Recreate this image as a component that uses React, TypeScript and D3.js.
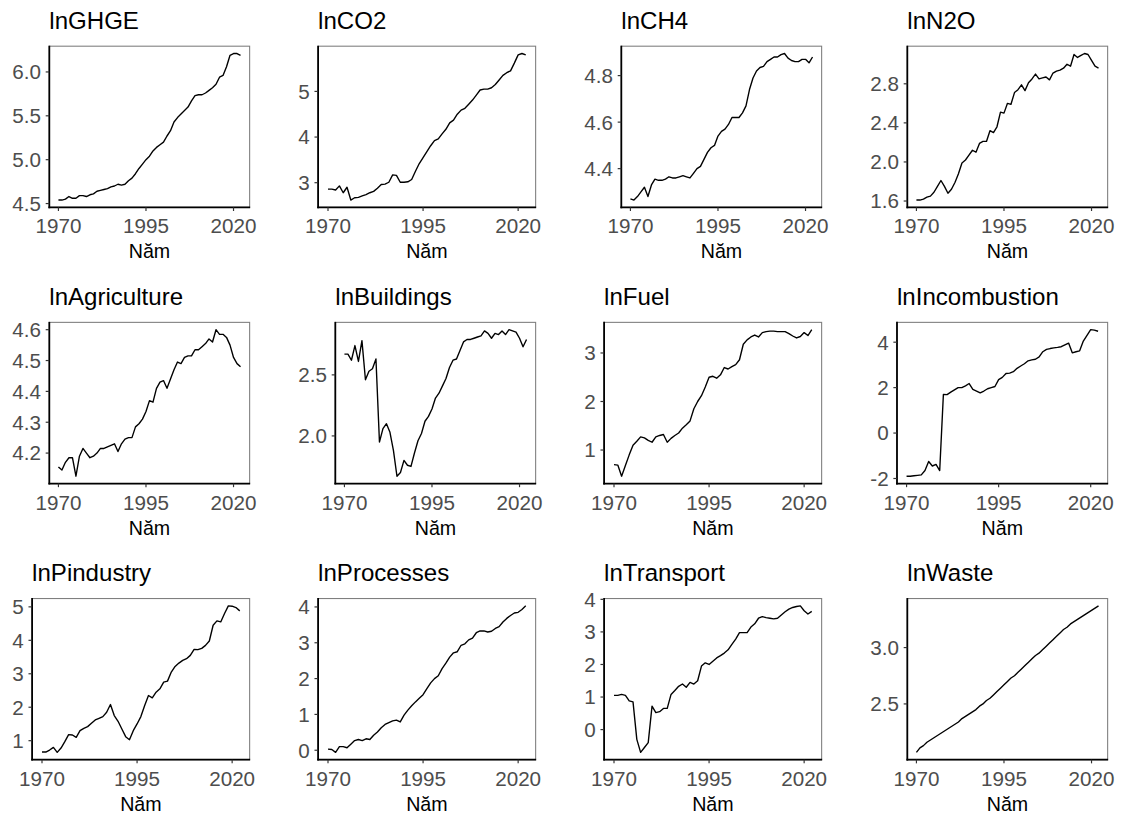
import React from "react";
import * as d3 from "d3";

// years 1970..2022
const firstYear = 1970;
const lastYear = 2022;
const xTickYears = [1970, 1995, 2020];

const lnGHGE = [
  4.54, 4.54, 4.55, 4.58, 4.56, 4.56, 4.59, 4.59, 4.58, 4.60,
  4.61, 4.64, 4.65, 4.66, 4.67, 4.69, 4.70, 4.72, 4.71, 4.72,
  4.76, 4.79, 4.84, 4.90, 4.95, 5.00, 5.04, 5.10, 5.14, 5.17,
  5.20, 5.27, 5.33, 5.43, 5.48, 5.52, 5.56, 5.60, 5.67, 5.73,
  5.74, 5.74, 5.76, 5.79, 5.82, 5.86, 5.94, 5.96, 6.06, 6.19,
  6.21, 6.21, 6.19,
];
const lnCO2 = [
  2.86, 2.86, 2.84, 2.93, 2.78, 2.90, 2.62, 2.67, 2.68, 2.71,
  2.74, 2.78, 2.81, 2.88, 2.96, 2.97, 3.01, 3.17, 3.16, 3.01,
  3.01, 3.02, 3.07, 3.25, 3.42, 3.55, 3.68, 3.81, 3.92, 3.96,
  4.07, 4.17, 4.31, 4.37, 4.50, 4.59, 4.63, 4.72, 4.81, 4.92,
  5.03, 5.05, 5.05, 5.08, 5.15, 5.25, 5.35, 5.41, 5.45, 5.62,
  5.80, 5.83, 5.80,
];
const lnCH4 = [
  4.27, 4.265, 4.28, 4.30, 4.32, 4.28, 4.33, 4.355, 4.35, 4.35,
  4.355, 4.365, 4.36, 4.36, 4.365, 4.37, 4.365, 4.36, 4.38, 4.40,
  4.41, 4.44, 4.47, 4.49, 4.50, 4.54, 4.56, 4.57, 4.59, 4.62,
  4.62, 4.62, 4.64, 4.67, 4.74, 4.79, 4.82, 4.835, 4.84, 4.86,
  4.87, 4.88, 4.88, 4.89, 4.895, 4.875, 4.865, 4.86, 4.86, 4.87,
  4.87, 4.855, 4.88,
];
const lnN2O = [
  1.61, 1.61, 1.62, 1.64, 1.65, 1.69, 1.75, 1.81, 1.75, 1.68,
  1.72, 1.79, 1.88, 1.99, 2.02, 2.07, 2.12, 2.10, 2.19, 2.21,
  2.21, 2.32, 2.30, 2.36, 2.51, 2.50, 2.60, 2.59, 2.71, 2.74,
  2.79, 2.73, 2.81, 2.85, 2.90, 2.85, 2.86, 2.87, 2.84, 2.91,
  2.93, 2.94, 2.96, 3.00, 2.98, 3.10, 3.07, 3.09, 3.11, 3.10,
  3.04, 2.98, 2.96,
];
const lnAgriculture = [
  4.155, 4.145, 4.17, 4.185, 4.185, 4.125, 4.19, 4.215, 4.20, 4.185,
  4.19, 4.20, 4.215, 4.215, 4.22, 4.225, 4.23, 4.205, 4.23, 4.245,
  4.25, 4.25, 4.285, 4.295, 4.31, 4.335, 4.37, 4.365, 4.41, 4.43,
  4.435, 4.41, 4.44, 4.47, 4.495, 4.49, 4.51, 4.515, 4.515, 4.535,
  4.535, 4.545, 4.555, 4.57, 4.56, 4.60, 4.585, 4.585, 4.575, 4.55,
  4.51, 4.49, 4.48,
];
const lnBuildings = [
  2.67, 2.67, 2.62, 2.74, 2.61, 2.78, 2.46, 2.53, 2.55, 2.63,
  1.95, 2.06, 2.10, 2.03, 1.88, 1.67, 1.70, 1.80, 1.76, 1.75,
  1.86, 1.96, 2.02, 2.12, 2.16, 2.22, 2.31, 2.35, 2.41, 2.47,
  2.56, 2.62, 2.63, 2.70, 2.77, 2.79, 2.79, 2.80, 2.81, 2.82,
  2.86, 2.84, 2.80, 2.84, 2.83, 2.86, 2.83, 2.87, 2.86, 2.85,
  2.80, 2.73, 2.79,
];
const lnFuel = [
  0.70, 0.69, 0.46, 0.68, 0.90, 1.10, 1.18, 1.27, 1.25, 1.20,
  1.16, 1.27, 1.30, 1.32, 1.16, 1.24, 1.30, 1.35, 1.45, 1.52,
  1.60, 1.85, 2.00, 2.12, 2.30, 2.50, 2.52, 2.48, 2.55, 2.70,
  2.67, 2.72, 2.76, 2.86, 3.18, 3.27, 3.33, 3.37, 3.33, 3.42,
  3.44, 3.45, 3.45, 3.44, 3.44, 3.44, 3.40, 3.35, 3.31, 3.34,
  3.42, 3.36, 3.48,
];
const lnIncombustion = [
  -1.90, -1.90, -1.88, -1.86, -1.84, -1.65, -1.25, -1.45, -1.38, -1.65,
  1.70, 1.69, 1.80, 1.90, 2.00, 2.00, 2.08, 2.18, 1.92, 1.85,
  1.77, 1.85, 1.95, 2.00, 2.05, 2.35, 2.45, 2.62, 2.64, 2.70,
  2.85, 2.95, 3.05, 3.18, 3.22, 3.25, 3.35, 3.58, 3.68, 3.72,
  3.75, 3.77, 3.80, 3.88, 3.96, 3.53, 3.58, 3.62, 4.05, 4.30,
  4.55, 4.53, 4.48,
];
const lnPindustry = [
  0.66, 0.66, 0.72, 0.80, 0.65, 0.78, 0.97, 1.18, 1.17, 1.10,
  1.30, 1.37, 1.42, 1.52, 1.62, 1.67, 1.72, 1.85, 2.08, 1.75,
  1.58, 1.35, 1.12, 1.03, 1.30, 1.50, 1.72, 2.05, 2.35, 2.28,
  2.45, 2.55, 2.75, 2.78, 3.05, 3.22, 3.32, 3.40, 3.45, 3.55,
  3.73, 3.72, 3.76, 3.85, 3.98, 4.45, 4.58, 4.55, 4.80, 5.03,
  5.02, 4.98, 4.88,
];
const lnProcesses = [
  0.03, 0.02, -0.06, 0.10, 0.10, 0.07, 0.17, 0.27, 0.30, 0.27,
  0.32, 0.30, 0.42, 0.51, 0.63, 0.72, 0.77, 0.82, 0.84, 0.79,
  0.98, 1.12, 1.24, 1.35, 1.45, 1.55, 1.72, 1.88, 2.00, 2.08,
  2.28, 2.43, 2.60, 2.72, 2.75, 2.93, 2.97, 3.08, 3.13, 3.28,
  3.33, 3.33, 3.30, 3.32, 3.40, 3.45, 3.58, 3.68, 3.76, 3.83,
  3.85, 3.93, 4.03,
];
const lnTransport = [
  1.05, 1.05, 1.08, 1.05, 0.88, 0.85, -0.30, -0.70, -0.55, -0.40,
  0.72, 0.52, 0.55, 0.65, 0.65, 1.08, 1.20, 1.33, 1.40, 1.30,
  1.45, 1.40, 1.50, 1.95, 2.05, 2.00, 2.10, 2.20, 2.27, 2.35,
  2.45, 2.62, 2.78, 2.98, 2.98, 2.98, 3.15, 3.25, 3.42, 3.47,
  3.44, 3.42, 3.40, 3.42, 3.52, 3.62, 3.70, 3.75, 3.78, 3.80,
  3.65, 3.55, 3.63,
];
const lnWaste = [
  2.07, 2.11, 2.13, 2.16, 2.18, 2.20, 2.22, 2.24, 2.26, 2.28,
  2.30, 2.32, 2.34, 2.37, 2.39, 2.41, 2.43, 2.45, 2.48, 2.50,
  2.53, 2.55, 2.58, 2.61, 2.64, 2.67, 2.70, 2.73, 2.75, 2.78,
  2.81, 2.84, 2.87, 2.90, 2.93, 2.95, 2.98, 3.01, 3.04, 3.07,
  3.10, 3.13, 3.16, 3.18, 3.21, 3.23, 3.25, 3.27, 3.29, 3.31,
  3.33, 3.35, 3.37,
];

const titles = [
  "lnGHGE", "lnCO2", "lnCH4", "lnN2O",
  "lnAgriculture", "lnBuildings", "lnFuel", "lnIncombustion",
  "lnPindustry", "lnProcesses", "lnTransport", "lnWaste",
];
const series = [
  lnGHGE, lnCO2, lnCH4, lnN2O,
  lnAgriculture, lnBuildings, lnFuel, lnIncombustion,
  lnPindustry, lnProcesses, lnTransport, lnWaste,
];
const yTickLabels = [
  ["4.5", "5.0", "5.5", "6.0"], ["3", "4", "5"], ["4.4", "4.6", "4.8"], ["1.6", "2.0", "2.4", "2.8"],
  ["4.2", "4.3", "4.4", "4.5", "4.6"], ["2.0", "2.5"], ["1", "2", "3"], ["-2", "0", "2", "4"],
  ["1", "2", "3", "4", "5"], ["0", "1", "2", "3", "4"], ["0", "1", "2", "3", "4"], ["2.5", "3.0"],
];
const xTitle = "Năm";

const font = "'Liberation Sans', Arial, Helvetica, sans-serif";
// grid laid out on a 1164x843 canvas (4x3 cells), then scaled to the 1144x828 page
const width = 1144;
const height = 828;
const cellW = 291;
const cellH = 281;
const scale = width / (cellW * 4);
const boxRight = 254;
const boxTop = 47;
const boxBottom = 211;
const tickFont = 21;
const tickLen = 3.7;

const textWidth = (s: string, fs: number) =>
  s.split("").reduce((a, c) => a + (c === "." ? 0.278 : c === "-" ? 0.333 : 0.556) * fs, 0);

const Panel = ({ idx }: { idx: number }) => {
  const values = series[idx];
  const ticks = yTickLabels[idx];
  const col = idx % 4;
  const row = Math.floor(idx / 4);
  const left = 21 + d3.max(ticks, (t) => textWidth(t, tickFont))!;

  const span = lastYear - firstYear;
  const x = d3
    .scaleLinear()
    .domain([firstYear - span * 0.05, lastYear + span * 0.05])
    .range([left, boxRight]);
  const [lo, hi] = d3.extent(values) as [number, number];
  const pad = (hi - lo) * 0.05;
  const y = d3.scaleLinear().domain([lo - pad, hi + pad]).range([boxBottom, boxTop]);

  const line = d3
    .line<number>()
    .x((d, i) => x(firstYear + i))
    .y((d) => y(d));

  return (
    <g transform={`translate(${col * cellW},${row * cellH})`}>
      <text x={left} y={29.5} fontSize={24.5} fontFamily={font} fill="#000">
        {titles[idx]}
      </text>
      <rect
        x={left}
        y={boxTop}
        width={boxRight - left}
        height={boxBottom - boxTop}
        fill="none"
        stroke="#7f7f7f"
        strokeWidth={1.1}
      />
      <path d={line(values) || ""} fill="none" stroke="#000" strokeWidth={1.4} strokeLinejoin="round" />
      <line x1={left} x2={left} y1={boxTop - 0.5} y2={boxBottom + 0.9} stroke="#000" strokeWidth={1.8} />
      <line x1={left - 0.9} x2={boxRight + 0.5} y1={boxBottom} y2={boxBottom} stroke="#000" strokeWidth={1.8} />
      {ticks.map((t) => (
        <g key={t}>
          <line x1={left - tickLen} x2={left} y1={y(+t)} y2={y(+t)} stroke="#333" strokeWidth={1.2} />
          <text
            x={left - 8.5}
            y={y(+t)}
            dy="0.36em"
            textAnchor="end"
            fontSize={tickFont}
            fontFamily={font}
            fill="#4d4d4d"
          >
            {t}
          </text>
        </g>
      ))}
      {xTickYears.map((yr) => (
        <g key={yr}>
          <line x1={x(yr)} x2={x(yr)} y1={boxBottom} y2={boxBottom + tickLen} stroke="#333" strokeWidth={1.2} />
          <text
            x={x(yr)}
            y={boxBottom + 26.5}
            textAnchor="middle"
            fontSize={tickFont}
            fontFamily={font}
            fill="#4d4d4d"
          >
            {yr}
          </text>
        </g>
      ))}
      <text
        x={(left + boxRight) / 2}
        y={263}
        textAnchor="middle"
        fontSize={20}
        fontFamily={font}
        fill="#000"
      >
        {xTitle}
      </text>
    </g>
  );
};

export default function App() {
  return (
    <svg
      width={width}
      height={height}
      style={{ position: "absolute", left: 0, top: 0, display: "block", background: "#fff" }}
    >
      <rect width={width} height={height} fill="#fff" />
      <g transform={`scale(${scale})`}>
        {titles.map((t, i) => (
          <Panel key={t} idx={i} />
        ))}
      </g>
    </svg>
  );
}
